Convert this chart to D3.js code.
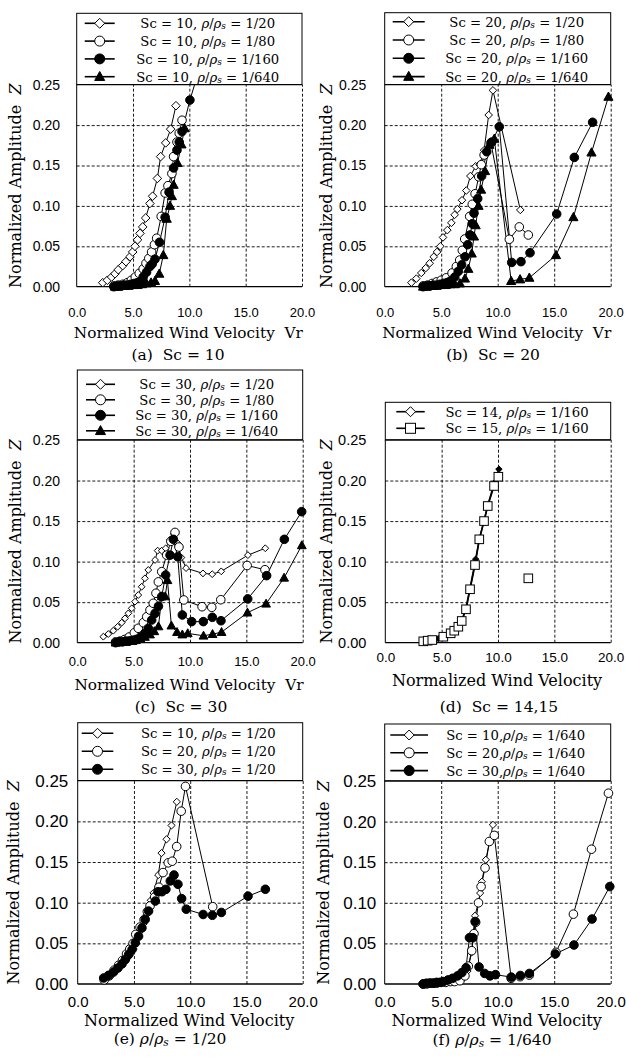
<!DOCTYPE html>
<html><head><meta charset="utf-8">
<script src="https://cdn.jsdelivr.net/npm/d3@7"></script>
<style>body{margin:0;background:#fff}svg{display:block}text{white-space:pre}</style>
</head><body>
<svg id="chart" width="626" height="1057"></svg>
<script>
// ---------------- DATA ----------------
const X_TICKS = [0, 5, 10, 15, 20];
const Y_TICKS = [0, 0.05, 0.10, 0.15, 0.20, 0.25];

// Sc = 10
const sc10_r20_v  = [2.31,2.72,3.10,3.40,3.69,4.08,4.37,4.73,4.97,5.17,5.40,5.62,5.86,6.12,6.50,6.74,7.16,7.45,7.90,8.34,8.81];
const sc10_r20_z  = [0.005,0.008,0.012,0.016,0.021,0.026,0.031,0.037,0.043,0.050,0.058,0.066,0.074,0.085,0.103,0.112,0.134,0.161,0.178,0.195,0.224];
const sc10_r80_v  = [3.3,3.7,4.1,4.5,4.85,5.2,5.55,5.9,6.15,6.4,6.65,6.9,7.1,7.5,7.85,8.1,8.45,8.6,8.9,9.1,9.35];
const sc10_r80_z  = [0.001,0.002,0.003,0.005,0.008,0.012,0.0165,0.022,0.029,0.035,0.043,0.052,0.060,0.087,0.116,0.125,0.140,0.161,0.179,0.190,0.206];
const sc10_r160_v = [3.3,3.6,3.9,4.2,4.5,4.8,5.1,5.4,5.7,5.9,6.2,6.5,6.7,6.95,7.35,7.85,8.2,8.6,8.9,9.1,9.35,10.05,10.9];
const sc10_r160_z = [0.000,0.001,0.001,0.002,0.002,0.003,0.004,0.005,0.007,0.012,0.018,0.025,0.028,0.034,0.055,0.086,0.117,0.147,0.169,0.179,0.192,0.231,0.270];
const sc10_r640_v = [3.4,3.7,4.0,4.3,4.6,5.0,5.4,5.8,6.2,6.6,6.95,7.33,7.69,7.99,8.28,8.45,8.6,8.95,9.3,9.58];
const sc10_r640_z = [0.000,0.000,0.001,0.001,0.001,0.002,0.002,0.003,0.004,0.005,0.007,0.016,0.039,0.084,0.100,0.112,0.126,0.153,0.176,0.196];

// Sc = 20
const sc20_r20_v  = [2.36,2.8,3.24,3.63,3.98,4.34,4.63,4.92,5.16,5.54,5.9,6.19,6.43,6.84,7.22,7.58,8.05,8.4,8.8,9.2,9.58,12.0];
const sc20_r20_z  = [0.005,0.010,0.017,0.023,0.029,0.037,0.043,0.050,0.061,0.070,0.079,0.089,0.096,0.107,0.119,0.137,0.149,0.151,0.169,0.2125,0.243,0.095];
const sc20_r80_v  = [3.4,3.8,4.2,4.6,5.0,5.45,5.96,6.34,6.64,6.87,7.08,7.52,7.75,8.0,8.32,8.55,8.8,9.4,11.03,11.91,12.71];
const sc20_r80_z  = [0.001,0.002,0.004,0.006,0.008,0.011,0.017,0.025,0.033,0.045,0.059,0.087,0.102,0.115,0.136,0.151,0.163,0.178,0.0587,0.074,0.064];
const sc20_r160_v = [3.4,3.7,4.0,4.3,4.6,4.9,5.2,5.5,5.8,6.2,6.51,6.81,7.11,7.35,7.55,7.75,7.9,8.23,8.58,9.03,9.47,10.14,11.24,12.06,12.86,15.22,16.78,18.4];
const sc20_r160_z = [0.000,0.001,0.001,0.002,0.002,0.003,0.004,0.005,0.007,0.012,0.019,0.027,0.037,0.052,0.064,0.078,0.091,0.109,0.137,0.167,0.179,0.198,0.030,0.031,0.042,0.090,0.160,0.2035];
const sc20_r640_v = [3.4,3.7,4.0,4.3,4.6,5.0,5.4,5.8,6.2,6.66,7.1,7.4,7.7,7.9,8.05,8.3,8.53,8.88,9.26,9.7,11.19,11.98,12.8,15.16,16.7,18.3,19.8];
const sc20_r640_z = [0.000,0.000,0.001,0.001,0.001,0.002,0.002,0.003,0.003,0.004,0.010,0.022,0.041,0.062,0.076,0.100,0.120,0.143,0.1755,0.183,0.007,0.009,0.011,0.039,0.086,0.166,0.235];

// Sc = 30
const sc30_r20_v  = [2.31,2.75,3.19,3.58,3.94,4.23,4.53,4.83,5.12,5.41,5.71,6.0,6.3,6.9,7.13,7.49,7.84,8.23,8.56,8.91,9.24,9.65,11.15,11.97,12.77,15.14,16.68];
const sc30_r20_z  = [0.0074,0.0107,0.0148,0.0197,0.0247,0.030,0.0362,0.0424,0.0506,0.0588,0.069,0.0794,0.0897,0.102,0.1135,0.1135,0.1164,0.1267,0.134,0.1226,0.105,0.092,0.0855,0.0845,0.088,0.108,0.1165];
const sc30_r80_v  = [3.4,3.8,4.2,4.6,5.06,5.41,5.86,6.16,6.45,6.74,6.98,7.19,7.49,7.93,8.3,8.67,9.02,9.45,11.07,11.93,12.73,15.07,16.65];
const sc30_r80_z  = [0.001,0.002,0.004,0.007,0.0123,0.0178,0.0247,0.032,0.0403,0.0486,0.061,0.075,0.0876,0.108,0.125,0.136,0.118,0.0527,0.0444,0.0436,0.053,0.0952,0.090];
const sc30_r160_v = [3.4,3.7,4.0,4.3,4.6,4.9,5.2,5.6,6.0,6.3,6.6,6.9,7.2,7.49,7.84,8.23,8.52,8.91,9.32,10.15,11.18,11.98,12.75,15.12,16.8,18.37,19.91];
const sc30_r160_z = [0.000,0.001,0.001,0.002,0.002,0.003,0.004,0.007,0.0116,0.0178,0.028,0.0362,0.045,0.0568,0.0835,0.108,0.1275,0.106,0.0342,0.026,0.026,0.0313,0.0271,0.054,0.0827,0.1275,0.1616];
const sc30_r640_v = [3.4,3.7,4.0,4.3,4.6,4.9,5.2,5.6,6.0,6.45,6.83,7.2,7.5,7.8,8.0,8.35,8.85,9.32,9.8,11.2,12.0,12.8,15.1,16.75,18.35,19.92];
const sc30_r640_z = [0.000,0.001,0.001,0.001,0.002,0.002,0.003,0.005,0.007,0.010,0.014,0.020,0.057,0.057,0.077,0.021,0.013,0.010,0.0115,0.0085,0.0105,0.013,0.037,0.048,0.080,0.120];

// Sc = 14 / 15, rho/rho_s = 1/160
const sc14_r160_v = [3.4,3.8,4.2,4.7,5.2,5.8,6.2,6.5,6.8,7.15,7.5,8.02,8.35,8.75,9.1,9.67,10.08];
const sc14_r160_z = [0.001,0.002,0.003,0.005,0.008,0.012,0.016,0.021,0.028,0.042,0.066,0.103,0.128,0.150,0.170,0.197,0.214];
const sc15_r160_v = [3.37,3.76,4.17,5.15,5.8,6.12,6.48,6.78,7.16,7.52,7.96,8.34,8.76,9.09,9.65,10.03];
const sc15_r160_z = [0.0017,0.0025,0.0033,0.0074,0.0116,0.0148,0.0197,0.0268,0.0412,0.0659,0.0958,0.1275,0.150,0.1686,0.1933,0.2047];
const sc15_r160_isolated_v = [12.69];
const sc15_r160_isolated_z = [0.0794];

// legend labels: [Sc, ratio]
const LEG_A = [["10","1/20"],["10","1/80"],["10","1/160"],["10","1/640"]];
const LEG_B = [["20","1/20"],["20","1/80"],["20","1/160"],["20","1/640"]];
const LEG_C = [["30","1/20"],["30","1/80"],["30","1/160"],["30","1/640"]];
const LEG_D = [["14","1/160"],["15","1/160"]];
const LEG_E = [["10","1/20"],["20","1/20"],["30","1/20"]];
const LEG_F = [["10","1/640"],["20","1/640"],["30","1/640"]];

// ---------------- LAYOUT ----------------
const zip = (v, z) => v.map((d, i) => [d, z[i]]);
const panels = [
  {left:76.7, top:84.7, w:225.3, h:202, legTop:13.3, row0:23.3, rowDy:17.8, legL:[8,38], textCx:131,
   yPad:16.7, yFs:14, xFs:13, xPad:21, yTitleX:15, xTitleY:333, xTitleFs:15.3, xTitle:"Normalized Wind Velocity  Vr",
   caption:{x:178, y:355, parts:[["(a)  Sc = 10"]]}, legend:LEG_A, comma:", ",
   series:[{d:zip(sc10_r20_v,sc10_r20_z),m:"diamond",r:4.3},{d:zip(sc10_r80_v,sc10_r80_z),m:"circleOpen",r:4.3},
           {d:zip(sc10_r160_v,sc10_r160_z),m:"circleFilled",r:4.3},{d:zip(sc10_r640_v,sc10_r640_z),m:"triangle",r:4.6}]},
  {left:384.7, top:84.7, w:226, h:202, legTop:12.7, row0:21.7, rowDy:18.3, legL:[8,40], textCx:132,
   yPad:18.4, yFs:14, xFs:13, xPad:21, yTitleX:326.3, xTitleY:333, xTitleFs:15.3, xTitle:"Normalized Wind Velocity  Vr",
   caption:{x:493, y:355, parts:[["(b)  Sc = 20"]]}, legend:LEG_B, comma:", ",
   series:[{d:zip(sc20_r20_v,sc20_r20_z),m:"diamond",r:3.8},{d:zip(sc20_r80_v,sc20_r80_z),m:"circleOpen",r:4.3},
           {d:zip(sc20_r160_v,sc20_r160_z),m:"circleFilled",r:4.3},{d:zip(sc20_r640_v,sc20_r640_z),m:"triangle",r:4.6}]},
  {left:77.3, top:440, w:225.4, h:202.7, legTop:370, row0:384.3, rowDy:15.5, legL:[8.7,37.7], textCx:129.4,
   yPad:17.3, yFs:14, xFs:13, xPad:14, yTitleX:15, xTitleY:685, xTitleFs:15.3, xTitle:"Normalized Wind Velocity  Vr",
   caption:{x:181, y:706.7, parts:[["(c)  Sc = 30"]]}, legend:LEG_C, comma:", ",
   series:[{d:zip(sc30_r20_v,sc30_r20_z),m:"diamond",r:3.4},{d:zip(sc30_r80_v,sc30_r80_z),m:"circleOpen",r:4.3},
           {d:zip(sc30_r160_v,sc30_r160_z),m:"circleFilled",r:4.3},{d:zip(sc30_r640_v,sc30_r640_z),m:"triangle",r:4.4}]},
  {left:385.3, top:440, w:225.4, h:202.7, legTop:402.3, row0:411.7, rowDy:16.6, legL:[11,39.4], textCx:131.7,
   yPad:19, yFs:14.5, xFs:13.5, xPad:10, yTitleX:326, xTitleY:680, xTitleFs:16, xTitle:"Normalized Wind Velocity",
   caption:{x:499, y:707, parts:[["(d)  Sc = 14,15"]]}, legend:LEG_D, comma:", ", lineW:1.6,
   series:[{d:zip(sc14_r160_v,sc14_r160_z),m:"diamondSolid",r:3.2,legM:"diamond"},
           {d:zip(sc15_r160_v,sc15_r160_z),m:"square",r:4.3,extra:zip(sc15_r160_isolated_v,sc15_r160_isolated_z)}]},
  {left:77.7, top:780.7, w:225, h:203.3, legTop:722.7, row0:733.3, rowDy:18, legL:[4,35.6], textCx:130.6,
   yPad:9.4, yFs:17, xFs:15, xPad:12, yTitleX:12.7, xTitleY:1020.5, xTitleFs:16, xTitle:"Normalized Wind Velocity",
   caption:{x:170, y:1039, ratio:"1/20", tag:"(e)"}, legend:LEG_E, comma:", ",
   series:[{d:zip(sc10_r20_v,sc10_r20_z),m:"diamond",r:3.6},{d:zip(sc20_r20_v,sc20_r20_z),m:"circleOpen",r:4.3},
           {d:zip(sc30_r20_v,sc30_r20_z),m:"circleFilled",r:4.3}]},
  {left:384.7, top:781, w:226, h:203, legTop:724, row0:735, rowDy:17.8, legL:[5.6,43.3], textCx:131,
   yPad:8.4, yFs:17, xFs:15, xPad:12, yTitleX:323, xTitleY:1020.5, xTitleFs:16, xTitle:"Normalized Wind Velocity",
   caption:{x:492, y:1040, ratio:"1/640", tag:"(f)"}, legend:LEG_F, comma:",",
   series:[{d:zip(sc10_r640_v,sc10_r640_z),m:"diamond",r:3.6},{d:zip(sc20_r640_v,sc20_r640_z),m:"circleOpen",r:4.3},
           {d:zip(sc30_r640_v,sc30_r640_z),m:"circleFilled",r:4.3}]}
];

const SERIF = "'DejaVu Serif', 'Liberation Serif', serif";
const SANS = "'Liberation Sans', Arial, sans-serif";
const svg = d3.select("#chart");

function marker(sel, type, r, cx, cy) {
  let el;
  if (type === "circleOpen" || type === "circleFilled") {
    el = sel.append("circle").attr("cx", cx).attr("cy", cy).attr("r", r)
      .attr("fill", type === "circleFilled" ? "#000" : "#fff");
  } else if (type === "diamond" || type === "diamondSolid") {
    el = sel.append("path").attr("d", `M${cx},${cy-r}L${cx+r},${cy}L${cx},${cy+r}L${cx-r},${cy}Z`)
      .attr("fill", type === "diamondSolid" ? "#000" : "#fff");
  } else if (type === "triangle") {
    el = sel.append("path").attr("d", `M${cx},${cy-r*1.05}L${cx+r},${cy+r*0.75}L${cx-r},${cy+r*0.75}Z`).attr("fill", "#000");
  } else if (type === "square") {
    el = sel.append("rect").attr("x", cx-r).attr("y", cy-r).attr("width", 2*r).attr("height", 2*r).attr("fill", "#fff");
  }
  el.attr("stroke", "#000").attr("stroke-width", 1);
}

function rhoLabel(t, prefix, ratio, fs) {
  t.append("tspan").text(prefix);
  t.append("tspan").attr("font-style", "italic").text("ρ");
  t.append("tspan").text("/");
  t.append("tspan").attr("font-style", "italic").text("ρ");
  t.append("tspan").attr("font-style", "italic").attr("font-size", fs*0.68).attr("dy", fs*0.22).text("s");
  t.append("tspan").attr("dy", -fs*0.22).text(" = " + ratio);
}

panels.forEach((p, pi) => {
  const x = d3.scaleLinear().domain([0, 20]).range([p.left, p.left + p.w]);
  const y = d3.scaleLinear().domain([0, 0.25]).range([p.top + p.h, p.top]);
  const g = svg.append("g");

  // legend box
  g.append("rect").attr("x", p.left).attr("y", p.legTop).attr("width", p.w).attr("height", p.top - p.legTop)
    .attr("fill", "#fff").attr("stroke", "#000").attr("stroke-width", 1);
  p.legend.forEach((lab, i) => {
    const s = p.series[i];
    const yy = p.row0 + i * p.rowDy;
    g.append("line").attr("x1", p.left + p.legL[0]).attr("x2", p.left + p.legL[1]).attr("y1", yy).attr("y2", yy)
      .attr("stroke", "#000").attr("stroke-width", 1.6);
    marker(g, s.legM || s.m, 5, p.left + (p.legL[0] + p.legL[1]) / 2, yy);
    const fs = 13.2;
    const t = g.append("text").attr("x", p.left + p.textCx).attr("y", yy).attr("dominant-baseline", "central")
      .attr("text-anchor", "middle").attr("font-family", SERIF).attr("font-size", fs);
    rhoLabel(t, "Sc = " + lab[0] + p.comma, lab[1], fs);
  });

  // plot background (covers legend bottom)
  g.append("rect").attr("x", p.left).attr("y", p.top).attr("width", p.w).attr("height", p.h).attr("fill", "#fff");

  // grid + axes
  const xa = g.append("g").attr("transform", `translate(0,${p.top + p.h})`)
    .call(d3.axisBottom(x).tickValues(X_TICKS).tickSize(-p.h).tickPadding(p.xPad).tickFormat(d3.format(".1f")));
  const ya = g.append("g").attr("transform", `translate(${p.left},0)`)
    .call(d3.axisLeft(y).tickValues(Y_TICKS).tickSize(-p.w).tickPadding(p.yPad).tickFormat(d3.format(".2f")));
  [xa, ya].forEach(a => a.select(".domain").remove());
  xa.selectAll(".tick line").attr("stroke", "#000").attr("stroke-width", 0.9).attr("stroke-dasharray", "3,2")
    .attr("display", d => d === 0 ? "none" : null);
  ya.selectAll(".tick line").attr("stroke", "#000").attr("stroke-width", 0.9).attr("stroke-dasharray", "3,2")
    .attr("display", d => (d === 0 || d === 0.25) ? "none" : null);
  xa.selectAll(".tick text").attr("font-family", SANS).attr("font-size", p.xFs).attr("fill", "#000");
  ya.selectAll(".tick text").attr("font-family", SANS).attr("font-size", p.yFs).attr("fill", "#000");

  // border: left, bottom, top solid
  g.append("line").attr("x1", p.left).attr("x2", p.left).attr("y1", p.top).attr("y2", p.top + p.h).attr("stroke", "#000").attr("stroke-width", 1);
  g.append("line").attr("x1", p.left).attr("x2", p.left + p.w).attr("y1", p.top + p.h).attr("y2", p.top + p.h).attr("stroke", "#000").attr("stroke-width", 1.3);
  g.append("line").attr("x1", p.left).attr("x2", p.left + p.w).attr("y1", p.top).attr("y2", p.top).attr("stroke", "#000").attr("stroke-width", 1.3);

  // clip for lines
  const cid = "clip" + pi;
  svg.append("clipPath").attr("id", cid).append("rect").attr("x", p.left).attr("y", p.top).attr("width", p.w + 2).attr("height", p.h);

  const line = d3.line().x(d => x(d[0])).y(d => y(d[1]));
  p.series.forEach(s => {
    g.append("path").attr("d", line(s.d)).attr("fill", "none").attr("stroke", "#000")
      .attr("stroke-width", p.lineW || 1).attr("clip-path", `url(#${cid})`);
  });
  p.series.forEach(s => {
    const mg = g.append("g");
    s.d.filter(d => d[1] <= 0.25).forEach(d => marker(mg, s.m, s.r, x(d[0]), y(d[1])));
    if (s.extra) s.extra.forEach(d => marker(mg, s.m, s.r, x(d[0]), y(d[1])));
  });

  // titles
  const yt = g.append("text").attr("transform", `translate(${p.yTitleX},${p.top + p.h / 2}) rotate(-90)`)
    .attr("text-anchor", "middle").attr("dominant-baseline", "central").attr("font-family", SERIF).attr("font-size", 16);
  yt.append("tspan").text("Normalized Amplitude  ");
  yt.append("tspan").attr("font-style", "italic").text("Z");
  g.append("text").attr("x", p.left + p.w / 2 - 1).attr("y", p.xTitleY).attr("text-anchor", "middle")
    .attr("dominant-baseline", "central").attr("font-family", SERIF).attr("font-size", p.xTitleFs).text(p.xTitle);

  const ct = g.append("text").attr("x", p.caption.x).attr("y", p.caption.y).attr("text-anchor", "middle")
    .attr("dominant-baseline", "central").attr("font-family", SERIF).attr("font-size", 15.5);
  if (p.caption.ratio) rhoLabel(ct, p.caption.tag + " ", p.caption.ratio, 15.5);
  else ct.text(p.caption.parts[0][0]);
});
</script>
</body></html>
